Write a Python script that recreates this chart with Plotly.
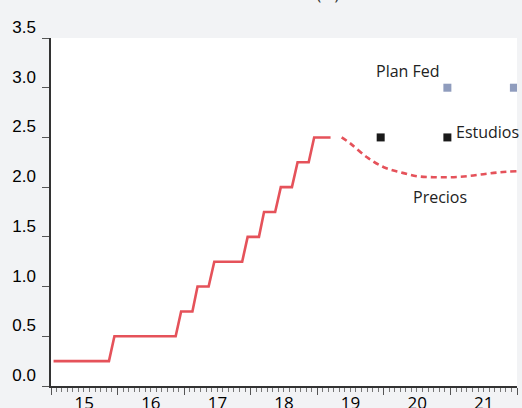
import plotly.graph_objects as go

# Fed funds target (upper bound) – step corners
rate_dates = ["2015-01-15", "2015-11-15", "2015-12-15", "2016-11-15", "2016-12-15",
              "2017-02-15", "2017-03-15", "2017-05-15", "2017-06-15", "2017-11-15",
              "2017-12-15", "2018-02-15", "2018-03-15", "2018-05-15", "2018-06-15",
              "2018-08-15", "2018-09-15", "2018-11-15", "2018-12-15", "2019-03-15"]
rate_values = [0.25, 0.25, 0.50, 0.50, 0.75,
               0.75, 1.00, 1.00, 1.25, 1.25,
               1.50, 1.50, 1.75, 1.75, 2.00,
               2.00, 2.25, 2.25, 2.50, 2.50]

# Market-implied path ("Precios")
precios_dates = ["2019-05-15", "2019-07-01", "2019-10-01", "2020-01-01", "2020-04-01",
                 "2020-07-01", "2020-10-01", "2021-01-01", "2021-04-01", "2021-07-01",
                 "2021-10-01", "2021-12-31"]
precios_values = [2.50, 2.44, 2.30, 2.20, 2.15, 2.11, 2.10, 2.10, 2.11, 2.13, 2.15, 2.16]

# Fed plan (dots) and surveys
planfed_dates = ["2020-12-15", "2021-12-15"]
planfed_values = [3.0, 3.0]
estudios_dates = ["2019-12-15", "2020-12-15"]
estudios_values = [2.5, 2.5]

y_tickvals = [0.0, 0.5, 1.0, 1.5, 2.0, 2.5, 3.0, 3.5]

RED = "#e5525a"
fig = go.Figure()
fig.add_trace(go.Scatter(x=rate_dates, y=rate_values, mode="lines",
                         line=dict(color=RED, width=2.6), showlegend=False))
fig.add_trace(go.Scatter(x=precios_dates, y=precios_values, mode="lines",
                         line=dict(color=RED, width=2.6, dash="6px,4px", shape="spline"),
                         showlegend=False))
fig.add_trace(go.Scatter(x=planfed_dates, y=planfed_values, mode="markers",
                         marker=dict(symbol="square", size=8, color="#8f9cbd"),
                         showlegend=False))
fig.add_trace(go.Scatter(x=estudios_dates, y=estudios_values, mode="markers",
                         marker=dict(symbol="square", size=8, color="#1a1a1a"),
                         showlegend=False))

ann_font = dict(family="Open Sans", size=16, color="#222222")
fig.add_annotation(x="2020-05-15", y=3.17, text="Plan Fed", showarrow=False,
                   xanchor="center", yanchor="middle", font=ann_font)
fig.add_annotation(x="2021-02-01", y=2.55, text="Estudios", showarrow=False,
                   xanchor="left", yanchor="middle", font=ann_font, xshift=-2)
fig.add_annotation(x="2020-11-05", y=1.90, text="Precios", showarrow=False,
                   xanchor="center", yanchor="middle", font=ann_font)
# title, mostly cut off at the top of the frame
fig.add_annotation(xref="paper", yref="paper", x=0.625, y=1, yshift=31,
                   xanchor="right", yanchor="bottom", text="Tasa de la Fed (%)",
                   showarrow=False, font=dict(family="Open Sans", size=16, color="#333333"))

fig.update_layout(
    width=522, height=408,
    margin=dict(l=51, r=5, t=38, b=22, autoexpand=False),
    paper_bgcolor="#f2f3f5", plot_bgcolor="#ffffff",
    xaxis=dict(type="date", range=["2015-01-01", "2022-01-01"], automargin=False,
               dtick="M12", tick0="2015-01-01", tickformat="%y",
               ticklabelmode="period", ticks="outside", ticklen=7, tickwidth=1.3,
               tickcolor="#555555", showgrid=False, zeroline=False,
               showline=True, linecolor="#333333", linewidth=1.5,
               ticklabelstandoff=-6,
               tickfont=dict(family="Open Sans", size=17, color="#000000"),
               minor=dict(dtick="M1", tick0="2015-01-01", ticks="outside",
                          ticklen=4, tickwidth=1, tickcolor="#777777", showgrid=False)),
    yaxis=dict(range=[0, 3.5], tickvals=y_tickvals, tickformat=".1f", automargin=False,
               ticks="outside", ticklen=7, tickwidth=1.3, tickcolor="#555555",
               showgrid=False, zeroline=False, showline=True,
               linecolor="#333333", linewidth=1.5,
               ticklabelshift=-11, ticklabelstandoff=3,
               tickfont=dict(family="Liberation Sans", size=17, color="#000000")),
)

fig.write_html("out.html", config={"displayModeBar": False},
               post_script="document.body.style.margin='0';")
